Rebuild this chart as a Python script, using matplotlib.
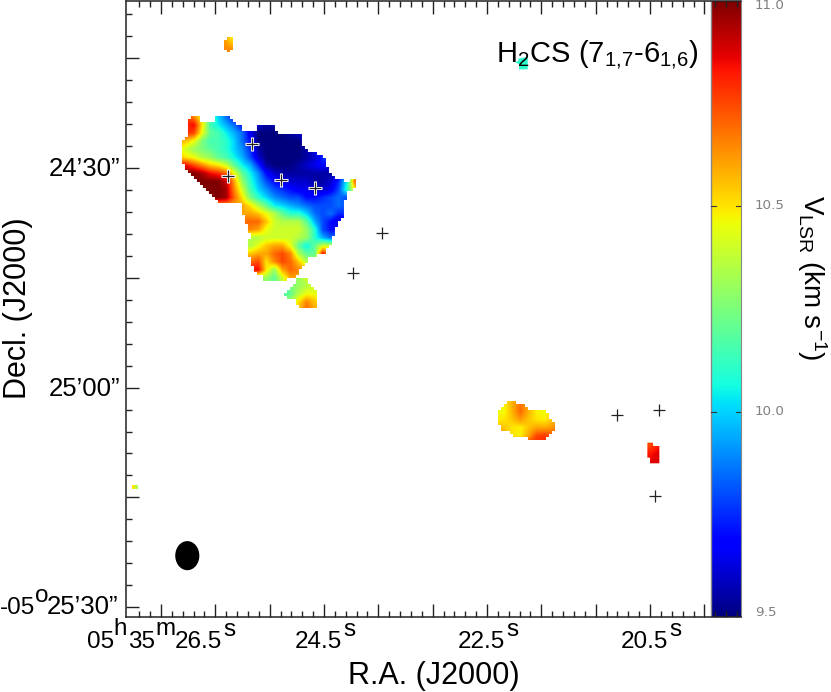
# -*- coding: utf-8 -*-
"""
H2CS velocity map with colour bar
"""
import numpy as np
import matplotlib
matplotlib.use('Agg')
import matplotlib.pyplot as plt
from matplotlib.patches import Ellipse, PathPatch
from matplotlib.path import Path
from matplotlib.ticker import FixedLocator

plt.rcParams['font.family'] = ['Liberation Sans', 'DejaVu Sans']
plt.rcParams['mathtext.fontset'] = 'custom'
plt.rcParams['mathtext.rm'] = 'Liberation Sans'
plt.rcParams['mathtext.default'] = 'rm'

W, H = 831, 692
V_MIN, V_MAX = 9.5, 11.0

# RA in seconds (05h35m..), Dec in arcsec below -05d00m
RA_LEFT, RA_RIGHT = 26.929, 19.384
RA_BAR = 19.752
DEC_TOP, DEC_BOTTOM = 1447.19, 1531.34
# size of one map cell, the outlines and velocity grids below count in cells
CELL_RA = 1 / (3 * 81.5)
CELL_DEC = 1 / (3 * 7.32)
BLOCK = 9

# continuum sources
source_ra = [25.380, 25.674, 25.024, 24.610, 24.140, 23.788, 20.905, 20.390, 20.445]
source_dec = [1466.68, 1471.05, 1471.64, 1472.73, 1484.39, 1478.95, 1503.74, 1503.06, 1514.81]
source_halo = [True, True, True, True, False, False, False, False, False]

# main clump, velocities every 24 cells from (24, 24)
main_origin = (26.390, 1462.08)
main_start = (24, 24)
main_velocity = [
    [10.7, 10.8, 10.65, 10.45, 10.2, 10.0, 9.85, 9.7, 9.6, 9.6, 9.6, 9.6, 9.6, 9.6, 9.6, 9.6, 9.6, 9.6, 9.6, 9.6, 9.6, 9.6, 9.6],
    [10.8, 10.8, 10.85, 10.5, 10.15, 10.05, 9.95, 9.85, 9.7, 9.65, 9.6, 9.55, 9.55, 9.6, 9.6, 9.6, 9.6, 9.6, 9.6, 9.6, 9.6, 9.6, 9.6],
    [10.7, 10.8, 10.75, 10.45, 10.2, 10.15, 10.05, 9.95, 9.85, 9.65, 9.5, 9.5, 9.5, 9.5, 9.55, 9.6, 9.65, 9.65, 9.65, 9.65, 9.65, 9.65, 9.65],
    [10.6, 10.55, 10.45, 10.25, 10.15, 10.15, 10.1, 10.0, 9.85, 9.7, 9.5, 9.5, 9.5, 9.5, 9.5, 9.5, 9.6, 9.7, 9.7, 9.7, 9.7, 9.7, 9.7],
    [10.5, 10.4, 10.3, 10.25, 10.2, 10.15, 10.1, 10.0, 9.9, 9.75, 9.55, 9.5, 9.5, 9.5, 9.5, 9.5, 9.55, 9.65, 9.7, 9.7, 9.7, 9.7, 9.7],
    [10.55, 10.5, 10.45, 10.35, 10.3, 10.2, 10.15, 10.05, 9.95, 9.8, 9.6, 9.5, 9.5, 9.5, 9.5, 9.5, 9.55, 9.6, 9.75, 9.85, 9.85, 9.85, 9.85],
    [10.85, 10.85, 10.75, 10.65, 10.55, 10.5, 10.4, 10.2, 10.05, 9.95, 9.75, 9.55, 9.5, 9.5, 9.5, 9.55, 9.6, 9.65, 9.7, 9.6, 9.6, 9.6, 9.6],
    [11.0, 11.0, 11.0, 10.95, 10.85, 10.8, 10.7, 10.45, 10.2, 10.05, 9.9, 9.7, 9.6, 9.55, 9.55, 9.55, 9.55, 9.55, 9.55, 9.55, 9.6, 9.9, 10.5],
    [11.0, 11.0, 11.0, 11.0, 11.0, 11.0, 10.9, 10.6, 10.3, 10.1, 9.95, 9.8, 9.7, 9.65, 9.6, 9.6, 9.6, 9.55, 9.55, 9.6, 9.75, 10.05, 10.7],
    [11.0, 11.0, 11.0, 11.0, 11.0, 11.0, 10.95, 10.65, 10.4, 10.15, 10.0, 9.9, 9.8, 9.75, 9.7, 9.65, 9.65, 9.6, 9.6, 9.65, 9.8, 10.1, 10.5],
    [11.0, 11.0, 11.0, 11.0, 11.0, 11.0, 10.95, 10.7, 10.5, 10.25, 10.1, 10.0, 9.9, 9.85, 9.8, 9.8, 9.7, 9.7, 9.75, 9.8, 9.85, 9.8, 9.8],
    [10.6, 10.6, 10.6, 10.6, 10.6, 10.6, 10.6, 10.6, 10.6, 10.5, 10.35, 10.2, 10.05, 10.0, 9.95, 9.9, 9.85, 9.8, 9.8, 9.8, 9.85, 9.8, 9.8],
    [10.6, 10.6, 10.6, 10.6, 10.6, 10.6, 10.6, 10.6, 10.6, 10.6, 10.55, 10.45, 10.35, 10.2, 10.1, 10.1, 10.0, 9.85, 9.8, 9.85, 9.75, 9.75, 9.75],
    [10.7, 10.7, 10.7, 10.7, 10.7, 10.7, 10.7, 10.7, 10.7, 10.7, 10.7, 10.55, 10.4, 10.35, 10.35, 10.35, 10.2, 9.95, 9.8, 9.7, 9.6, 9.6, 9.6],
    [10.65, 10.65, 10.65, 10.65, 10.65, 10.65, 10.65, 10.65, 10.65, 10.65, 10.6, 10.45, 10.4, 10.4, 10.4, 10.4, 10.3, 10.1, 9.8, 9.7, 9.7, 9.7, 9.7],
    [10.35, 10.35, 10.35, 10.35, 10.35, 10.35, 10.35, 10.35, 10.35, 10.35, 10.35, 10.4, 10.4, 10.4, 10.4, 10.35, 10.3, 10.1, 9.95, 9.85, 9.85, 9.85, 9.85],
    [10.35, 10.35, 10.35, 10.35, 10.35, 10.35, 10.35, 10.35, 10.35, 10.35, 10.45, 10.55, 10.6, 10.6, 10.45, 10.2, 10.05, 10.2, 10.4, 10.4, 10.4, 10.4, 10.4],
    [10.55, 10.55, 10.55, 10.55, 10.55, 10.55, 10.55, 10.55, 10.55, 10.55, 10.6, 10.6, 10.7, 10.75, 10.65, 10.35, 10.2, 10.2, 10.85, 10.6, 10.6, 10.6, 10.6],
    [10.7, 10.7, 10.7, 10.7, 10.7, 10.7, 10.7, 10.7, 10.7, 10.7, 10.75, 10.5, 10.65, 10.75, 10.7, 10.55, 10.35, 10.35, 10.35, 10.35, 10.35, 10.35, 10.35],
    [10.85, 10.85, 10.85, 10.85, 10.85, 10.85, 10.85, 10.85, 10.85, 10.85, 10.85, 10.5, 10.3, 10.6, 10.7, 10.65, 10.65, 10.65, 10.65, 10.65, 10.65, 10.65, 10.65],
    [10.3, 10.3, 10.3, 10.3, 10.3, 10.3, 10.3, 10.3, 10.3, 10.3, 10.3, 10.3, 10.2, 10.4, 10.6, 10.6, 10.6, 10.6, 10.6, 10.6, 10.6, 10.6, 10.6],
]
main_outline = [(60, 22), (90, 22), (92, 32), (135, 32), (135, 22), (180, 22), (190, 40), (212, 42),
                (220, 60), (262, 60), (262, 48), (310, 48), (320, 68), (338, 75), (372, 75), (375, 68),
                (392, 68), (400, 110), (418, 130), (438, 130), (465, 145), (475, 178), (500, 205),
                (535, 215), (540, 205), (558, 205), (558, 232), (545, 242), (530, 250), (528, 262),
                (520, 320), (500, 345), (485, 400), (472, 410), (472, 425), (440, 438), (420, 440),
                (400, 470), (375, 500), (345, 510), (283, 510), (280, 490), (260, 498), (245, 460),
                (235, 432), (235, 390), (243, 380), (235, 362), (220, 318), (215, 280), (150, 278),
                (125, 255), (85, 220), (45, 175), (33, 150), (33, 110), (42, 90), (50, 85), (50, 30)]

# small clump under the main one
tail_start = (336, 504)
tail_velocity = [
    [10.3, 10.3, 10.3, 10.4, 10.4, 10.4],
    [10.25, 10.25, 10.3, 10.35, 10.4, 10.4],
    [10.15, 10.2, 10.35, 10.45, 10.45, 10.4],
    [10.3, 10.3, 10.5, 10.65, 10.55, 10.45],
    [10.55, 10.55, 10.55, 10.7, 10.6, 10.6],
]
tail_outline = [(382, 502), (408, 502), (420, 520), (445, 555), (445, 590), (385, 592), (375, 570),
                (345, 562), (345, 548), (372, 525)]

# clump on the right
east_origin = (22.586, 1498.96)
east_start = (48, 48)
east_velocity = [
    [10.47, 10.5, 10.55, 10.6, 10.55, 10.5, 10.5, 10.55, 10.6],
    [10.46, 10.48, 10.58, 10.68, 10.6, 10.5, 10.48, 10.52, 10.6],
    [10.46, 10.46, 10.58, 10.7, 10.58, 10.48, 10.46, 10.52, 10.6],
    [10.48, 10.5, 10.55, 10.62, 10.55, 10.5, 10.48, 10.55, 10.62],
    [10.58, 10.55, 10.5, 10.48, 10.55, 10.6, 10.6, 10.63, 10.68],
    [10.62, 10.6, 10.5, 10.48, 10.6, 10.75, 10.78, 10.72, 10.72],
    [10.8, 10.8, 10.8, 10.8, 10.8, 10.8, 10.8, 10.8, 10.8],
]
east_outline = [(87, 60), (112, 60), (112, 68), (132, 70), (150, 88), (205, 95), (215, 122), (225, 125),
                (225, 150), (200, 170), (195, 178), (142, 178), (140, 168), (97, 168), (87, 152),
                (68, 150), (52, 132), (52, 95), (60, 85), (78, 70)]

# red patch, top of it slightly cooler
red_start = (510, 198)
red_velocity = [[10.75, 10.82], [10.83, 10.88], [10.87, 10.88]]
red_outline = [(502, 188), (518, 188), (520, 198), (538, 198), (538, 250), (510, 250), (510, 233), (502, 233)]

# tiny spots
spot_top_origin = (25.727, 1452.1)
spot_top_velocity = [[10.6, 10.5, 10.47], [10.63, 10.58, 10.52], [10.65, 10.65, 10.6]]
spot_top_outline = [(9, 0), (27, 0), (27, 38), (19, 38), (19, 46), (10, 46), (10, 38), (0, 38), (0, 9), (9, 9)]
spot_text_origin = (22.156, 1454.84)
spot_text_velocity = [[10.1, 10.1], [10.1, 10.1]]
spot_text_outline = [(0, 15), (10, 12), (10, 5), (38, 0), (38, 37), (12, 37), (12, 22)]
spot_left_origin = (26.856, 1513.3)
spot_left_velocity = [[10.5, 10.35]]
spot_left_outline = [(0, 0), (18, 0), (18, 12), (0, 12)]

# colour bar labels
bar_ticks = [11.0, 10.5, 10.0, 9.5]
bar_tick_y = [5, 205, 411, 612]

fig = plt.figure(figsize=(W / 100, H / 100), dpi=100)
ax = fig.add_axes([126 / W, 1 - 617 / H, (741 - 126) / W, 616 / H])


def to_sky(origin, cells):
    cells = np.array(cells, dtype=float)
    return np.column_stack([origin[0] - cells[:, 0] * CELL_RA, origin[1] + cells[:, 1] * CELL_DEC])


# 把轮廓变成像素块，和原图的锯齿边一样
def block_path(origin, outline):
    poly = Path(outline + outline[:1])
    cells = np.array(outline)
    squares = []
    for bx in range(0, int(cells[:, 0].max()) + BLOCK, BLOCK):
        for by in range(0, int(cells[:, 1].max()) + BLOCK, BLOCK):
            if poly.contains_point((bx + BLOCK / 2, by + BLOCK / 2)):
                corners = [(bx, by), (bx + BLOCK, by), (bx + BLOCK, by + BLOCK), (bx, by + BLOCK), (bx, by)]
                squares.append(Path(to_sky(origin, corners), closed=True))
    return Path.make_compound_path(*squares)


# 画一个团块：速度网格 + 轮廓裁剪
def draw_clump(origin, velocity, outline, start=(0, 0), step=24, interp='bilinear', blocks=False):
    velocity = np.array(velocity)
    nrow, ncol = velocity.shape
    x0, y0 = to_sky(origin, [(start[0] - step / 2, start[1] - step / 2)])[0]
    x1, y1 = to_sky(origin, [(start[0] + (ncol - 0.5) * step, start[1] + (nrow - 0.5) * step)])[0]
    im = ax.imshow(velocity, extent=(x0, x1, y1, y0), cmap='jet', vmin=V_MIN, vmax=V_MAX,
                   interpolation=interp, aspect='auto', zorder=2)
    if blocks:
        path = block_path(origin, outline)
    else:
        path = Path(to_sky(origin, outline + outline[:1]))
    im.set_clip_path(PathPatch(path, transform=ax.transData))


draw_clump(main_origin, main_velocity, main_outline, main_start, blocks=True)
draw_clump(main_origin, tail_velocity, tail_outline, tail_start, blocks=True)
draw_clump(east_origin, east_velocity, east_outline, east_start, blocks=True)
draw_clump(east_origin, red_velocity, red_outline, red_start)
draw_clump(spot_top_origin, spot_top_velocity, spot_top_outline, (4, 7), step=16)
draw_clump(spot_text_origin, spot_text_velocity, spot_text_outline, (10, 10), step=20)
draw_clump(spot_left_origin, spot_left_velocity, spot_left_outline, (3, 6), step=12, interp='nearest')

# colour bar sits inside the axes frame
gradient = np.linspace(V_MAX, V_MIN, 256).reshape(-1, 1)
ax.imshow(gradient, extent=(RA_BAR, RA_RIGHT, DEC_BOTTOM, DEC_TOP), cmap='jet', vmin=V_MIN, vmax=V_MAX,
          aspect='auto', zorder=2)
ax.set_xlim(RA_LEFT, RA_RIGHT)
ax.set_ylim(DEC_BOTTOM, DEC_TOP)
ax.axvline(RA_BAR, color='#888888', lw=1.0, zorder=2.5)
for val in [10.5, 10.0]:
    dec = DEC_BOTTOM + (val - V_MIN) / (V_MAX - V_MIN) * (DEC_TOP - DEC_BOTTOM)
    ax.plot([RA_BAR, RA_BAR - 0.063], [dec, dec], color='#333333', lw=0.8, zorder=3)
    ax.plot([RA_RIGHT + 0.063, RA_RIGHT], [dec, dec], color='#333333', lw=0.8, zorder=3)

# 源的位置，团块上的加白边
for ra, dec, white in zip(source_ra, source_dec, source_halo):
    if white:
        ax.plot(ra, dec, marker='+', ms=10, mew=2.2, color='white', zorder=3)
    ax.plot(ra, dec, marker='+', ms=8, mew=0.9, color='#222222', zorder=4)

# beam
ax.add_patch(Ellipse((26.177, 1522.96), 22.7 / 81.5, 27.7 / 7.32, color='black', zorder=3))

# 坐标刻度
ra_major = 26.5 - np.arange(0, 11) * 2 / 3
ra_minor = 26.5 + 2 * 2 / 15 - np.arange(0, 60) * 2 / 15
dec_major = np.arange(1455, 1531, 15)
dec_minor = np.arange(1449, 1531, 3)
ax.xaxis.set_major_locator(FixedLocator(ra_major))
ax.xaxis.set_minor_locator(FixedLocator(ra_minor))
ax.yaxis.set_major_locator(FixedLocator(dec_major))
ax.yaxis.set_minor_locator(FixedLocator(dec_minor))
ax.tick_params(which='major', direction='in', length=9.5, width=1.0, color='#222222', top=True, bottom=True,
               left=True, right=False, labelbottom=False, labelleft=False)
ax.tick_params(which='minor', direction='in', length=4.5, width=1.0, color='#222222', top=True, bottom=True,
               left=True, right=False)
for side in ['top', 'bottom', 'left']:
    ax.spines[side].set_linewidth(1.1)
    ax.spines[side].set_color('#222222')
ax.spines['right'].set_color('#888888')
ax.set_axisbelow(False)

for val, py in zip(bar_ticks, bar_tick_y):
    fig.text(755 / W, 1 - (py + 0.5) / H, '%.1f' % val, fontsize=9.7, color='#808080', va='center', ha='left',
             family='DejaVu Sans')

FS = 17.5


# 文字按像素位置放
def put_text(x, y, s, fs=FS, **kw):
    fig.text(x / W, 1 - y / H, s, fontsize=fs, va='baseline', **kw)


for tx, s in [(295, '24.5'), (458, '22.5'), (621, '20.5')]:
    put_text(tx, 648, s)
    put_text(tx + 48, 636, 's')
put_text(87, 648, '05')
put_text(113, 635, 'h')
put_text(128, 648, '35')
put_text(155, 635, 'm')
put_text(175, 648, '26.5')
put_text(223, 636, 's')

put_text(120, 176, '24\u201930\u201d', fs=18.5, ha='right')
put_text(120, 396, '25\u201900\u201d', fs=18.5, ha='right')
put_text(118, 614, '25\u201930\u201d', fs=18.5, ha='right')
put_text(35, 602, 'o')
put_text(0, 614, '-05')

fig.text(434 / W, 1 - 676 / H, 'R.A. (J2000)', fontsize=22, ha='center', va='center')
fig.text(18 / W, 1 - 308 / H, 'Decl. (J2000)', fontsize=22, rotation=90, ha='center', va='center')
fig.text(812 / W, 1 - 278 / H, r'V$_{LSR}$ (km s$^{-1}$)', fontsize=20, rotation=270, ha='center', va='center')
put_text(496, 62, r'H$_{2}$CS (7$_{1{,}7}$-6$_{1{,}6}$)', fs=21)

fig.savefig('out.png', dpi=100)
